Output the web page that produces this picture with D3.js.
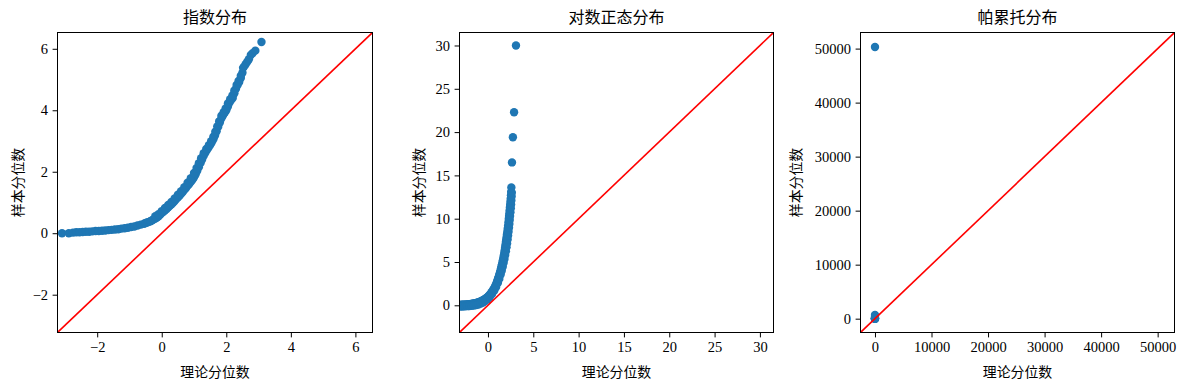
<!DOCTYPE html>
<html>
<head>
<meta charset="utf-8">
<script src="https://cdn.jsdelivr.net/npm/d3@7/dist/d3.min.js"></script>
<style>
  html, body { margin: 0; padding: 0; background: #fff; }
  svg { display: block; }
</style>
</head>
<body>
<svg id="chart" width="1187" height="390"></svg>
<script>
// ---------------- DATA ----------------
const titles = ["指数分布", "对数正态分布", "帕累托分布"];
const xLabel = "理论分位数";
const yLabel = "样本分位数";

// [theoretical quantile, sample quantile] — centre of the dotted band
const expPoints = [
  [-3.09,0.00],[-2.88,0.00],[-2.75,0.02],[-2.65,0.03],[-2.55,0.03],[-2.45,0.04],
  [-2.35,0.05],[-2.25,0.05],[-2.15,0.06],[-2.05,0.07],[-1.95,0.07],[-1.85,0.08],
  [-1.75,0.09],[-1.65,0.10],[-1.55,0.11],[-1.45,0.12],[-1.35,0.13],[-1.25,0.15],
  [-1.15,0.16],[-1.05,0.18],[-0.95,0.20],[-0.85,0.22],[-0.75,0.25],[-0.65,0.28],
  [-0.55,0.31],[-0.50,0.33],[-0.45,0.35],[-0.40,0.37],[-0.35,0.39],[-0.30,0.42],
  [-0.25,0.45],[-0.20,0.48],[-0.15,0.51],[-0.10,0.55],[-0.05,0.60],[0.00,0.66],
  [0.05,0.70],[0.10,0.75],[0.15,0.79],[0.20,0.84],[0.25,0.89],[0.30,0.94],
  [0.35,0.99],[0.40,1.05],[0.45,1.11],[0.50,1.17],[0.55,1.22],[0.60,1.28],
  [0.65,1.34],[0.70,1.41],[0.75,1.47],[0.80,1.54],[0.85,1.60],[0.90,1.67],
  [0.95,1.74],[1.00,1.82],[1.05,1.92],[1.10,2.03],[1.15,2.15],[1.20,2.28],
  [1.25,2.40],[1.30,2.52],[1.35,2.62],[1.40,2.71],[1.45,2.79],[1.50,2.87],
  [1.55,2.96],[1.60,3.06],[1.65,3.18],[1.70,3.32],[1.75,3.46],[1.80,3.60],
  [1.85,3.74],[1.90,3.84],[1.95,3.92],[2.00,4.00],[2.05,4.12],[2.10,4.25],
  [2.15,4.33],[2.20,4.40],[2.25,4.55],[2.30,4.70],[2.35,4.82],[2.40,4.92],
  [2.45,5.05],[2.50,5.22],[2.55,5.42],[2.60,5.50],[2.65,5.58],[2.70,5.66],
  [2.76,5.80],[2.82,5.86],[2.90,5.94],[3.09,6.22]
];
// upper-left edge of the thick part of the band
const expEdge = [
  [-0.20,0.55],[-0.10,0.62],[0.00,0.72],[0.10,0.82],[0.20,0.92],[0.30,1.02],
  [0.40,1.13],[0.50,1.25],[0.60,1.37],[0.70,1.50],[0.80,1.64],[0.90,1.79],
  [1.00,1.96],[1.08,2.12],[1.15,2.28],[1.22,2.44],[1.30,2.60],[1.38,2.74],
  [1.46,2.86],[1.53,2.99],[1.60,3.14],[1.66,3.30],[1.72,3.47],[1.78,3.64],
  [1.85,3.82],[1.92,3.94],[1.98,4.06],[2.05,4.22],[2.12,4.36],[2.19,4.48],
  [2.25,4.64],[2.32,4.82],[2.38,4.95],[2.45,5.12],[2.52,5.38]
];

const lognormPoints = [
  [-3.09,0.05],[-3.00,0.05],[-2.90,0.06],[-2.80,0.06],[-2.70,0.07],[-2.60,0.07],
  [-2.50,0.08],[-2.40,0.09],[-2.30,0.10],[-2.20,0.11],[-2.10,0.12],[-2.00,0.14],
  [-1.90,0.15],[-1.80,0.17],[-1.70,0.18],[-1.60,0.20],[-1.50,0.22],[-1.40,0.25],
  [-1.30,0.27],[-1.20,0.30],[-1.10,0.33],[-1.00,0.37],[-0.90,0.41],[-0.80,0.45],
  [-0.70,0.50],[-0.60,0.55],[-0.50,0.61],[-0.40,0.67],[-0.30,0.74],[-0.20,0.82],
  [-0.10,0.90],[0.00,1.00],[0.10,1.10],[0.20,1.22],[0.30,1.35],[0.40,1.50],
  [0.50,1.65],[0.60,1.83],[0.70,2.00],[0.80,2.22],[0.90,2.45],[1.00,2.70],
  [1.05,2.85],[1.10,3.00],[1.15,3.15],[1.20,3.30],[1.25,3.50],[1.30,3.68],
  [1.35,3.85],[1.40,4.05],[1.45,4.27],[1.50,4.50],[1.55,4.72],[1.60,4.95],
  [1.65,5.20],[1.70,5.47],[1.75,5.75],[1.80,6.05],[1.85,6.35],[1.90,6.70],
  [1.94,7.00],[1.98,7.30],[2.02,7.60],[2.06,7.90],[2.10,8.20],[2.14,8.50],
  [2.18,8.85],[2.22,9.20],[2.26,9.60],[2.30,10.00],[2.33,10.30],[2.36,10.60],
  [2.39,10.95],[2.42,11.30],[2.45,11.60],[2.48,11.95],[2.51,12.30],[2.54,12.70],
  [2.56,13.10],[2.58,13.60],[2.65,16.50],[2.75,19.40],[2.88,22.30],[3.09,30.00]
];
// lower-right edge of the band
const lognormEdge = [
  [-3.05,-0.15],[-2.80,-0.14],[-2.55,-0.12],[-2.30,-0.10],[-2.05,-0.08],[-1.80,-0.05],
  [-1.55,-0.02],[-1.30,0.03],[-1.05,0.10],[-0.80,0.20],[-0.55,0.32],[-0.30,0.48],
  [-0.05,0.70],[0.20,0.95],[0.45,1.30],[0.70,1.70],[0.90,2.10],[1.10,2.60],
  [1.25,3.05],[1.40,3.55],[1.52,4.00],[1.63,4.45],[1.73,4.90],[1.82,5.35],
  [1.90,5.80],[1.98,6.25],[2.05,6.70],[2.11,7.15],[2.17,7.60],[2.22,8.05],
  [2.27,8.50],[2.32,8.95],[2.36,9.40],[2.40,9.85],[2.44,10.30],[2.48,10.75],
  [2.52,11.20],[2.55,11.65],[2.58,12.10],[2.61,12.55],[2.63,13.00]
];

const paretoPoints = [
  [-3.09,1],[-2.00,1],[-1.00,1],[0.00,2],[1.00,5],[2.00,30],
  [2.50,120],[2.75,300],[2.88,700],[3.09,50300]
];

const expTicks = [-2, 0, 2, 4, 6];
const lognormTicks = [0, 5, 10, 15, 20, 25, 30];
const paretoTicks = [0, 10000, 20000, 30000, 40000, 50000];

// ---------------- LAYOUT ----------------
const plotTop = 32.5, plotBottom = 332.5;
const panels = [
  { title: titles[0], pts: expPoints.concat(expEdge), ticks: expTicks, dom: [-3.23, 6.53], left: 57.5, right: 372.5, ylabX: 23 },
  { title: titles[1], pts: lognormPoints.concat(lognormEdge), ticks: lognormTicks, dom: [-3.14, 31.5], left: 459.5, right: 773.5, ylabX: 424 },
  { title: titles[2], pts: paretoPoints, ticks: paretoTicks, dom: [-2560, 52980], left: 860.5, right: 1174.5, ylabX: 800.5 }
];

const numFont = "'Liberation Serif', 'DejaVu Serif', serif";
const cjkFont = "'Noto Sans CJK SC', 'Noto Sans', sans-serif";
const fmt = d => d < 0 ? "\u2212" + Math.abs(d) : String(d);

const svg = d3.select("#chart");

panels.forEach((p, i) => {
  const x = d3.scaleLinear().domain(p.dom).range([p.left, p.right]);
  const y = d3.scaleLinear().domain(p.dom).range([plotBottom, plotTop]);
  const g = svg.append("g");

  const clipId = "clip" + i;
  svg.append("clipPath").attr("id", clipId)
    .append("rect").attr("x", p.left).attr("y", plotTop)
    .attr("width", p.right - p.left).attr("height", plotBottom - plotTop);

  // points
  g.append("g").attr("clip-path", `url(#${clipId})`)
    .selectAll("circle").data(p.pts).join("circle")
    .attr("cx", d => x(d[0])).attr("cy", d => y(d[1]))
    .attr("r", 4.2).attr("fill", "#1f77b4");

  // 45-degree reference line
  g.append("line")
    .attr("clip-path", `url(#${clipId})`)
    .attr("x1", x(p.dom[0])).attr("y1", y(p.dom[0]))
    .attr("x2", x(p.dom[1])).attr("y2", y(p.dom[1]))
    .attr("stroke", "red").attr("stroke-width", 1.6);

  // axes
  const xa = g.append("g").attr("transform", `translate(0,${plotBottom})`)
    .call(d3.axisBottom(x).tickValues(p.ticks).tickFormat(fmt).tickSize(4.9).tickPadding(4.2));
  const ya = g.append("g").attr("transform", `translate(${p.left},0)`)
    .call(d3.axisLeft(y).tickValues(p.ticks).tickFormat(fmt).tickSize(4.9).tickPadding(4.5));
  [xa, ya].forEach(a => {
    a.select(".domain").remove();
    a.selectAll("line").attr("stroke", "#000").attr("stroke-width", 1);
    a.selectAll("text").attr("fill", "#000").style("font-family", numFont).style("font-size", "14.5px");
  });

  // frame
  g.append("rect").attr("x", p.left).attr("y", plotTop)
    .attr("width", p.right - p.left).attr("height", plotBottom - plotTop)
    .attr("fill", "none").attr("stroke", "#000").attr("stroke-width", 1);

  const cx = (p.left + p.right) / 2;
  g.append("text").attr("x", cx).attr("y", 23).attr("text-anchor", "middle")
    .style("font-family", cjkFont).style("font-size", "16px").text(p.title);
  g.append("text").attr("x", cx).attr("y", 377).attr("text-anchor", "middle")
    .style("font-family", cjkFont).style("font-size", "13.9px").text(xLabel);
  g.append("text").attr("transform", `translate(${p.ylabX},${(plotTop + plotBottom) / 2}) rotate(-90)`)
    .attr("text-anchor", "middle")
    .style("font-family", cjkFont).style("font-size", "13.9px").text(yLabel);
});
</script>
</body>
</html>
